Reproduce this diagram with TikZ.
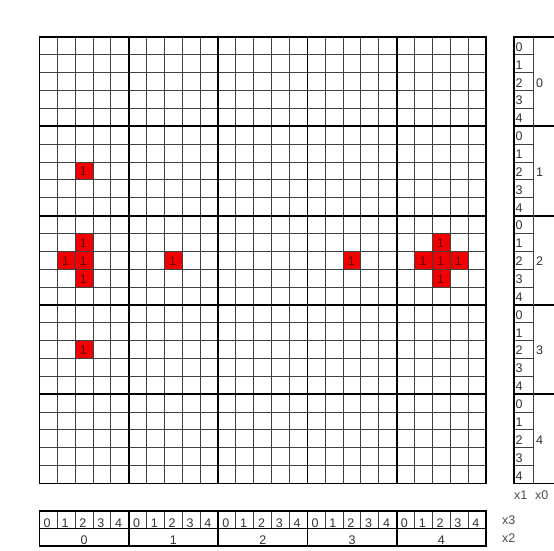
\documentclass[tikz,border=0pt]{standalone}
\usepackage{fontspec}
\setmainfont{Liberation Sans}
\begin{document}
\begin{tikzpicture}[x=1pt,y=-1pt,
  thin line/.style={draw=black!75, line width=1pt},
  major line/.style={draw=black, line width=1.8pt},
  border line/.style={draw=black, line width=1.1pt},
  redcell/.style={fill={rgb,255:red,240;green,0;blue,0}},
  digit/.style={anchor=base west, inner sep=0pt, font=\fontsize{12.5}{14}\selectfont, text=black!80},
  onelabel/.style={anchor=base west, inner sep=0pt, font=\fontsize{12.5}{14}\selectfont, text={rgb,255:red,100;green,0;blue,0}},
  axislabel/.style={anchor=base west, inner sep=0pt, font=\fontsize{12.5}{14}\selectfont, text=black!70}]
\useasboundingbox (0,0) rectangle (554,551);
\fill[white] (0,0) rectangle (554,551);
\def\X{39.5}
\def\Y{37}
\def\C{17.86}
% red cells (column,row)
\foreach \c/\r [count=\k] in {2/7, 2/11, 1/12, 2/12, 2/13, 7/12, 17/12, 22/11, 21/12, 22/12, 23/12, 22/13, 2/17}{
  \fill[redcell] ({\X+\c*\C},{\Y+\r*\C}) rectangle ++(\C,\C);
  \node[onelabel] (one-\k) at ({\X+\c*\C+4.5},{\Y+(\r+1)*\C-4}) {1};
}
% grid thin lines
\foreach \i in {1,...,24}{
  \draw[thin line] ({\X+\i*\C},\Y) -- ++(0,{25*\C});
  \draw[thin line] (\X,{\Y+\i*\C}) -- ++({25*\C},0);
}
% major lines
\foreach \i in {5,10,15,20}{
  \draw[major line] ({\X+\i*\C},\Y) -- ++(0,{25*\C});
  \draw[major line] (\X,{\Y+\i*\C}) -- ++({25*\C},0);
}
\draw[border line] (\X,\Y) rectangle ++({25*\C},{25*\C});
% right panel
\def\RA{514}
\def\RB{533.5}
\foreach \i in {1,...,24}{
  \draw[thin line] (\RA,{\Y+\i*\C}) -- (\RB,{\Y+\i*\C});
}
\foreach \i in {5,10,15,20}{
  \draw[major line] (\RA,{\Y+\i*\C}) -- (554,{\Y+\i*\C});
}
\draw[border line] (554,\Y) -- (\RA,\Y) -- (\RA,{\Y+25*\C}) -- (554,{\Y+25*\C});
\draw[thin line] (\RB,\Y) -- (\RB,{\Y+25*\C});
\foreach \g in {0,...,4}{
  \foreach \d in {0,...,4}{
    \node[digit] (rd-\g-\d) at ({\RA+1.5},{\Y+(5*\g+\d+1)*\C-3.5}) {\d};
  }
  \node[digit] (rg-\g) at ({\RB+2.5},{\Y+(5*\g+3)*\C-3.5}) {\g};
}
% bottom panel
\def\BA{511}
\def\BB{528.5}
\def\BC{546}
\foreach \i in {1,...,24}{
  \draw[thin line] ({\X+\i*\C},\BA) -- ({\X+\i*\C},\BB);
}
\foreach \i in {5,10,15,20}{
  \draw[major line] ({\X+\i*\C},\BA) -- ({\X+\i*\C},\BC);
}
\draw[border line] (\X,\BB) -- ({\X+25*\C},\BB);
\draw[border line] (\X,\BA) rectangle ({\X+25*\C},\BC);
\foreach \g in {0,...,4}{
  \foreach \d in {0,...,4}{
    \node[digit] (bd-\g-\d) at ({\X+(5*\g+\d)*\C+4},{\BB-1.5}) {\d};
  }
  \node[digit, anchor=base] (bg-\g) at ({\X+(5*\g+2.5)*\C},{\BC-1.5}) {\g};
}
% axis labels
\node[axislabel] (x1) at (514,499) {x1};
\node[axislabel] (x0) at (535,499) {x0};
\node[axislabel] (x3) at (502,524) {x3};
\node[axislabel] (x2) at (502,542) {x2};
\end{tikzpicture}
\end{document}
